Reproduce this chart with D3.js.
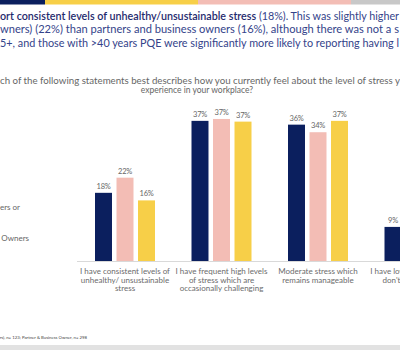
<!DOCTYPE html>
<meta charset="UTF-8">
<style>
body { margin: 0; background: #fff; }
svg { display: block; font-family: Lato, "Open Sans", sans-serif; }
.cat text { font-size: 8px; fill: #6b6b6b; }
.val { font-size: 7.5px; fill: #666; letter-spacing: -0.3px; }
</style>
<body>
<script src="https://d3js.org/d3.v7.min.js"></script>
<script>
// data
var categories = [
  ["I have consistent levels of", "unhealthy/ unsustainable", "stress"],
  ["I have frequent high levels", "of stress which are", "occasionally challenging"],
  ["Moderate stress which", "remains manageable"],
  ["I have low levels of stress", "don't feel stressed"]
];
var seriesNames = ["Total", "Non-partners or Non-owners", "Partner & Business Owner"];
var seriesColors = ["#0b1f5e", "#f3bdb5", "#f7cf48"];
var totalVals   = [18, 37, 36, 9];
var nonPartVals = [22, 37.5, 34, 7];
var partnerVals = [16, 36.8, 37, 10];
var valueLabels = [["18%", "22%", "16%"], ["37%", "37%", "37%"], ["36%", "34%", "37%"], ["9%", "7%", "10%"]];

var titleLines = [
  ["ort consistent levels of unhealthy/unsustainable stress", " (18%). This was slightly higher"],
  ["", "wners) (22%)  than partners and business owners (16%), although there was not a s"],
  ["", "5+, and those with >40 years PQE were significantly more likely to reporting having l"]
];
var question = ["ch of the following statements best describes how you currently feel about the level of stress y",
                "experience in your workplace?"];
var legendLabels = ["Non-Partners or", "Partners & Business Owners"];
var footnote = "(Non-partners or Non-owners), n= 123; Partner & Business Owner, n= 298";

var width = 400, height = 350;
var svg = d3.select("body").append("svg")
    .attr("width", width)
    .attr("height", height);

// coloured strip along the top of the slide
var strip = [["#0b1f5e", 0, 45], ["#f7cf48", 45, 198], ["#f3bdb5", 198, 351], ["#c8c8c8", 351, 400]];
svg.selectAll(".strip")
    .data(strip)
  .enter().append("rect")
    .attr("x", function(d) { return d[1]; })
    .attr("y", 0)
    .attr("width", function(d) { return d[2] - d[1]; })
    .attr("height", 4.5)
    .attr("fill", function(d) { return d[0]; });

// grey band at the bottom
svg.append("rect")
    .attr("x", 0).attr("y", 345)
    .attr("width", width).attr("height", 5)
    .attr("fill", "#e2e2e2");

// summary text
titleLines.forEach(function(line, i) {
  var t = svg.append("text")
      .attr("x", 0)
      .attr("y", 19.5 + i * 13.5)
      .attr("font-size", "11px")
      .attr("fill", "#34438a")
      .attr("textLength", 399)
      .attr("lengthAdjust", "spacingAndGlyphs");
  t.append("tspan").attr("font-weight", 600).attr("fill", "#1f2b6e").text(line[0]);
  t.append("tspan").text(line[1]);
});

// survey question
svg.append("text")
    .attr("x", 0).attr("y", 84)
    .attr("font-size", "8.5px").attr("fill", "#666")
    .attr("textLength", 400).attr("lengthAdjust", "spacingAndGlyphs")
    .text(question[0]);
svg.append("text")
    .attr("x", 197).attr("y", 92.5)
    .attr("text-anchor", "middle")
    .attr("font-size", "8.5px").attr("fill", "#666")
    .text(question[1]);

// legend (mostly cut off on the left)
svg.append("text").attr("x", 20).attr("y", 209.5)
    .attr("text-anchor", "end").attr("font-size", "8px").attr("fill", "#666")
    .text(legendLabels[0]);
svg.append("text").attr("x", 29).attr("y", 241)
    .attr("text-anchor", "end").attr("font-size", "8px").attr("fill", "#666")
    .text(legendLabels[1]);

// footnote
svg.append("text").attr("x", 87).attr("y", 338.5)
    .attr("text-anchor", "end").attr("font-size", "4.3px").attr("fill", "#444")
    .text(footnote);

// scales
var baseline = 261;
var x0 = d3.scaleBand()
    .domain(d3.range(categories.length))
    .range([76.75, 76.75 + 96.5 * categories.length]);
var x1 = d3.scaleBand()
    .domain(d3.range(seriesNames.length))
    .range([18.25, 78.25])
    .paddingInner(0.21);
var y = d3.scaleLinear()
    .domain([0, 40])
    .range([baseline, baseline - 151.5]);

var values = [totalVals, nonPartVals, partnerVals];

var group = svg.selectAll(".grp")
    .data(categories)
  .enter().append("g")
    .attr("class", "grp")
    .attr("transform", function(d, i) { return "translate(" + x0(i) + ",0)"; });

group.selectAll("rect")
    .data(function(d, i) { return values.map(function(v, s) { return {s: s, v: v[i], label: valueLabels[i][s]}; }); })
  .enter().append("rect")
    .attr("x", function(d) { return x1(d.s); })
    .attr("y", function(d) { return y(d.v); })
    .attr("width", x1.bandwidth())
    .attr("height", function(d) { return baseline - y(d.v); })
    .attr("fill", function(d) { return seriesColors[d.s]; });

group.selectAll(".val")
    .data(function(d, i) { return values.map(function(v, s) { return {s: s, v: v[i], label: valueLabels[i][s]}; }); })
  .enter().append("text")
    .attr("class", "val")
    .attr("x", function(d) { return x1(d.s) + x1.bandwidth() / 2; })
    .attr("y", function(d) { return y(d.v) - 4; })
    .attr("text-anchor", "middle")
    .text(function(d) { return d.label; });

// axis baseline
svg.append("line")
    .attr("x1", 77).attr("x2", width)
    .attr("y1", baseline + 0.5).attr("y2", baseline + 0.5)
    .attr("stroke", "#d9d9d9");

// category labels
var cat = group.append("g").attr("class", "cat");
cat.selectAll("text")
    .data(function(d) { return d; })
  .enter().append("text")
    .attr("x", x0.bandwidth() / 2)
    .attr("y", function(d, j) { return 274 + j * 8.6; })
    .attr("text-anchor", "middle")
    .text(function(d) { return d; });
</script>
</body>
